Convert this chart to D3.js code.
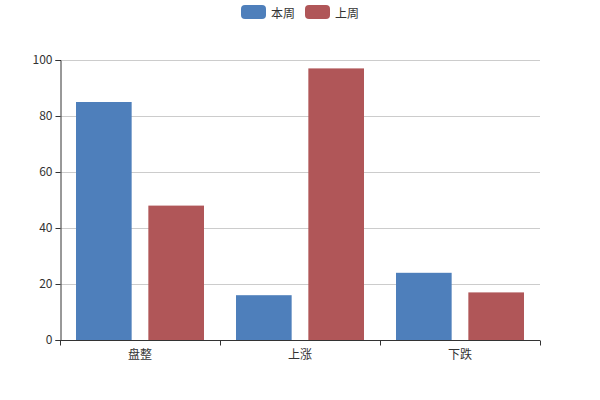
<!DOCTYPE html>
<html><head><meta charset="utf-8">
<script src="https://cdn.jsdelivr.net/npm/d3@7/dist/d3.min.js"></script>
<style>body{margin:0;background:#fff}svg{display:block}text{font-family:"Microsoft YaHei","Noto Sans CJK SC",sans-serif;}</style>
</head><body>
<svg id="c" width="600" height="400"></svg>
<script>
const categories = ["盘整", "上涨", "下跌"];
const seriesNames = ["本周", "上周"];
const thisWeek = [85, 16, 24];
const lastWeek = [48, 97, 17];
const yTicks = [0, 20, 40, 60, 80, 100];
const colors = ["#4e7fbb", "#b05658"];

const svg = d3.select("#c");
const m = {left: 60, right: 540, top: 60, bottom: 340};
const x = d3.scaleBand().domain(categories).range([m.left, m.right]).paddingInner(0).paddingOuter(0);
const y = d3.scaleLinear().domain([0, 100]).range([m.bottom, m.top]);

// grid
svg.append("g").selectAll("line").data(yTicks.filter(d => d > 0)).join("line")
  .attr("x1", m.left).attr("x2", m.right)
  .attr("y1", d => y(d) + 0.5).attr("y2", d => y(d) + 0.5)
  .attr("stroke", "#ccc").attr("stroke-width", 1);

// bars
const bw = x.bandwidth();
const catGap = bw * 0.2;
const barW = (bw - catGap) / 2.3;
const barGap = barW * 0.3;
const data = [thisWeek, lastWeek];
data.forEach((vals, si) => {
  svg.append("g").selectAll("rect").data(vals).join("rect")
    .attr("x", (d, i) => x(categories[i]) + catGap / 2 + si * (barW + barGap))
    .attr("width", barW)
    .attr("y", d => y(d))
    .attr("height", d => y(0) - y(d))
    .attr("fill", colors[si]);
});

// y axis
const ya = svg.append("g").attr("transform", `translate(${m.left + 0.5},0)`)
  .call(d3.axisLeft(y).tickValues(yTicks).tickSize(5).tickPadding(3));
ya.select(".domain").attr("stroke", "#333");
ya.selectAll(".tick line").attr("stroke", "#333");
ya.selectAll("text").attr("font-size", 12).attr("fill", "#333");

// x axis
const xa = svg.append("g").attr("transform", `translate(0,${m.bottom + 0.5})`);
xa.append("line").attr("x1", m.left).attr("x2", m.right).attr("stroke", "#333");
const bounds = [m.left].concat(categories.map(c => x(c) + bw));
xa.selectAll(".tk").data(bounds).join("line").attr("class", "tk")
  .attr("x1", d => Math.round(d) + 0.5).attr("x2", d => Math.round(d) + 0.5)
  .attr("y1", 0).attr("y2", 5).attr("stroke", "#333");
xa.selectAll("text").data(categories).join("text")
  .attr("x", d => x(d) + bw / 2).attr("y", 18)
  .attr("text-anchor", "middle").attr("font-size", 12).attr("fill", "#333").text(d => d);

// legend
const lg = svg.append("g");
const lx = [241, 305];
seriesNames.forEach((n, i) => {
  lg.append("rect").attr("x", lx[i]).attr("y", 5).attr("width", 25).attr("height", 14)
    .attr("rx", 4).attr("fill", colors[i]);
  lg.append("text").attr("x", lx[i] + 30).attr("y", 12).attr("dominant-baseline", "central")
    .attr("font-size", 12).attr("fill", "#333").text(n);
});
</script>
</body></html>
